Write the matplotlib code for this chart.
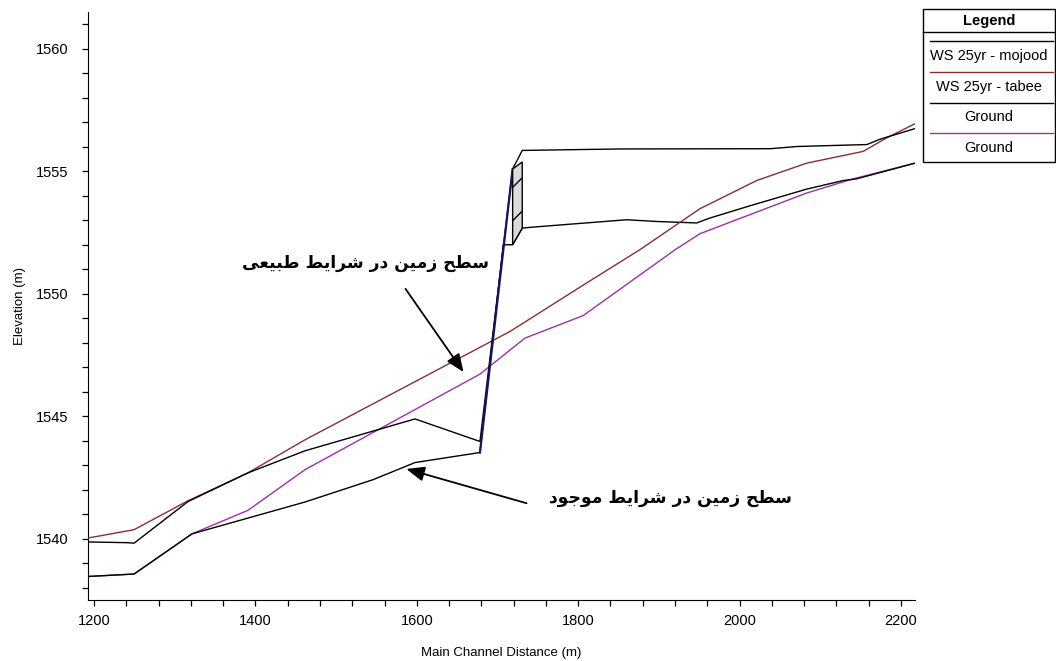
import matplotlib
matplotlib.use("Agg")
import matplotlib.pyplot as plt
from matplotlib.patches import Polygon, Rectangle
from matplotlib.lines import Line2D
from matplotlib.ticker import MultipleLocator

# ---------------- data ----------------
ws_mojood_x = [1192.5, 1240.9, 1249.6, 1316.5, 1390.8, 1461.5, 1597.8, 1678.3,
               1718.8, 1730.7, 1852.2, 2038.1, 2071.2, 2157.9, 2174.4, 2217.5]
ws_mojood_y = [1539.87, 1539.84, 1539.82, 1541.52, 1542.69, 1543.59, 1544.89, 1543.97,
               1555.09, 1555.85, 1555.91, 1555.92, 1556.01, 1556.09, 1556.31, 1556.74]

ws_tabee_x = [1192.5, 1249.6, 1316.5, 1390.8, 1461.5, 1715.5, 1810.5, 1876.6,
              1950.9, 2021.2, 2083.1, 2153.2, 2182.2, 2217.5]
ws_tabee_y = [1540.03, 1540.37, 1541.55, 1542.69, 1544.04, 1548.46, 1550.44, 1551.80,
              1553.47, 1554.62, 1555.33, 1555.81, 1556.36, 1556.94]

ground_mojood_x = [1192.5, 1249.6, 1321.4, 1461.5, 1545.7, 1597.8, 1678.3, 1707.2,
                   1718.8, 1730.7, 1743.9, 1860.0, 1897.2, 1946.8, 1963.3, 2012.9,
                   2083.1, 2128.5, 2145.1, 2217.5]
ground_mojood_y = [1538.46, 1538.56, 1540.20, 1541.50, 1542.41, 1543.11, 1543.52, 1552.00,
                   1552.00, 1552.68, 1552.72, 1553.02, 1552.95, 1552.89, 1553.09, 1553.59,
                   1554.27, 1554.62, 1554.69, 1555.33]

ground_tabee_x = [1192.5, 1249.6, 1321.4, 1390.8, 1461.5, 1678.3, 1734.1, 1806.3,
                  1920.3, 1950.9, 2083.1, 2140.9, 2217.5]
ground_tabee_y = [1538.46, 1538.56, 1540.20, 1541.16, 1542.82, 1546.72, 1548.19, 1549.11,
                  1551.80, 1552.45, 1554.11, 1554.69, 1555.33]

# bridge face line and deck block
bridge_face_x = [1678.3, 1718.8]
bridge_face_y = [1543.52, 1555.09]
deck_x = [1718.8, 1718.8, 1730.7, 1730.7]
deck_y = [1552.00, 1555.09, 1555.38, 1552.68]

series_labels = ["WS 25yr - mojood", "WS 25yr - tabee", "Ground", "Ground"]
series_colors = ["#000000", "#8b2e2e", "#000000", "#9b30a8"]

note_texts = ["سطح زمین در شرایط طبیعی", "سطح زمین در شرایط موجود"]
note_text_xy = [(1537, 1551.25), (1914, 1541.65)]
note_tail_xy = [(1586, 1550.2), (1736, 1541.45)]
note_head_xy = [(1658, 1546.8), (1587, 1542.85)]


# ------------- minimal Persian shaping (presentation forms + RTL) -------------
FORMS = {  # isolated, final, initial, medial
    'ا': (0xFE8D, 0xFE8E, None, None),
    'ب': (0xFE8F, 0xFE90, 0xFE91, 0xFE92),
    'ج': (0xFE9D, 0xFE9E, 0xFE9F, 0xFEA0),
    'ح': (0xFEA1, 0xFEA2, 0xFEA3, 0xFEA4),
    'د': (0xFEA9, 0xFEAA, None, None),
    'ر': (0xFEAD, 0xFEAE, None, None),
    'ز': (0xFEAF, 0xFEB0, None, None),
    'س': (0xFEB1, 0xFEB2, 0xFEB3, 0xFEB4),
    'ش': (0xFEB5, 0xFEB6, 0xFEB7, 0xFEB8),
    'ط': (0xFEC1, 0xFEC2, 0xFEC3, 0xFEC4),
    'ع': (0xFEC9, 0xFECA, 0xFECB, 0xFECC),
    'م': (0xFEE1, 0xFEE2, 0xFEE3, 0xFEE4),
    'ن': (0xFEE5, 0xFEE6, 0xFEE7, 0xFEE8),
    'و': (0xFEED, 0xFEEE, None, None),
    'ی': (0xFBFC, 0xFBFD, 0xFBFE, 0xFBFF),
}


def shape(s):
    out = []
    for i, ch in enumerate(s):
        if ch not in FORMS:
            out.append(ch)
            continue
        prev = s[i - 1] if i > 0 else ''
        nxt = s[i + 1] if i + 1 < len(s) else ''
        join_prev = prev in FORMS and FORMS[prev][2] is not None
        join_next = nxt in FORMS and FORMS[ch][2] is not None
        f = FORMS[ch]
        if join_prev and join_next:
            cp = f[3]
        elif join_prev:
            cp = f[1]
        elif join_next:
            cp = f[2]
        else:
            cp = f[0]
        out.append(chr(cp))
    return ''.join(reversed(out))


# ---------------- figure ----------------
plt.rcParams['font.family'] = ['Liberation Sans', 'DejaVu Sans']
W, H = 1056, 661
fig = plt.figure(figsize=(W / 100, H / 100), dpi=100)
ax = fig.add_axes([88 / W, 1 - 600 / H, (915 - 88) / W, (600 - 12) / H])

ax.plot(ground_tabee_x, ground_tabee_y, color=series_colors[3], lw=1.0, zorder=2)
ax.plot(ground_mojood_x, ground_mojood_y, color=series_colors[2], lw=1.0, zorder=3)
ax.plot(ws_tabee_x, ws_tabee_y, color=series_colors[1], lw=1.0, zorder=3)
ax.plot(ws_mojood_x, ws_mojood_y, color=series_colors[0], lw=1.0, zorder=3)
ax.plot(bridge_face_x, bridge_face_y, color="#141466", lw=1.6, zorder=4)

deck = Polygon(list(zip(deck_x, deck_y)), closed=True, facecolor="#dcdcdc",
               edgecolor="black", lw=1.0, hatch="/", zorder=4)
ax.add_patch(deck)

for txt, txy, tail, head in zip(note_texts, note_text_xy, note_tail_xy, note_head_xy):
    ax.text(txy[0], txy[1], shape(txt), family='DejaVu Sans', fontweight='bold',
            fontsize=12.3, ha='center', va='center', zorder=5)
    ax.annotate("", xy=head, xytext=tail,
                arrowprops=dict(arrowstyle="-|>,head_length=1.1,head_width=0.45",
                                color="black", lw=1.3, shrinkA=0, shrinkB=0), zorder=5)

ax.set_xlim(1192.5, 2217.5)
ax.set_ylim(1537.5, 1561.5)
ax.xaxis.set_major_locator(MultipleLocator(200))
ax.xaxis.set_minor_locator(MultipleLocator(40))
ax.yaxis.set_major_locator(MultipleLocator(5))
ax.yaxis.set_minor_locator(MultipleLocator(1))
ax.tick_params(which='both', direction='out', length=4, width=0.9, labelsize=10.5)
ax.tick_params(axis='y', pad=10)
ax.tick_params(axis='x', pad=6)
ax.spines['top'].set_visible(False)
ax.spines['right'].set_visible(False)
ax.set_xlabel("Main Channel Distance (m)", fontsize=9.5, labelpad=14)
ax.set_ylabel("Elevation (m)", fontsize=9.5, labelpad=7)

# ---------------- legend box (manual, HEC-RAS style) ----------------
def fx(px):
    return px / W


def fy(py):
    return 1 - py / H


fig.patches.append(Rectangle((fx(923), fy(162)), fx(1055) - fx(923), fy(9) - fy(162),
                             transform=fig.transFigure, facecolor='white',
                             edgecolor='black', lw=1.0))
fig.lines.append(Line2D([fx(923), fx(1055)], [fy(32), fy(32)], transform=fig.transFigure,
                        color='black', lw=1.0))
fig.text(fx(989), fy(21), "Legend", ha='center', va='center', fontsize=10.5, fontweight='bold')
line_rows = [41, 72, 103, 133]
label_rows = [56, 87, 117, 148]
for lab, col, ly, ty in zip(series_labels, series_colors, line_rows, label_rows):
    fig.lines.append(Line2D([fx(930), fx(1053)], [fy(ly), fy(ly)], transform=fig.transFigure,
                            color=col, lw=1.0))
    fig.text(fx(989), fy(ty), lab, ha='center', va='center', fontsize=10.5)

fig.savefig("out.png", dpi=100)
